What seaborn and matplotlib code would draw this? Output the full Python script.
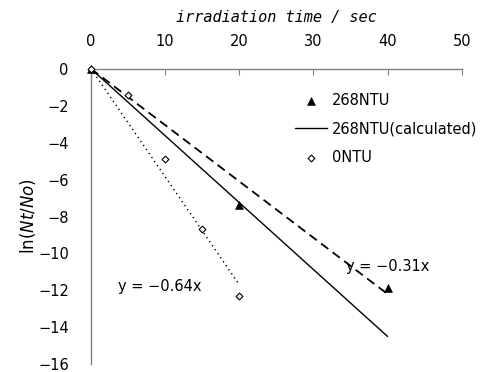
import matplotlib.pyplot as plt
import seaborn as sns

# measured points
t_268 = [0, 20, 40]
y_268 = [0, -7.35, -11.9]
t_0 = [0, 5, 10, 15, 20]
y_0 = [0, -1.4, -4.9, -8.7, -12.3]

# fitted / calculated lines (end points)
fit268_t = [0, 40]
fit268_y = [0, -12.2]
calc268_t = [0, 40]
calc268_y = [0, -14.5]
fit0_t = [0, 20]
fit0_y = [0, -11.7]

y_ticks = list(range(-16, 1, 2))

sns.set_style("white")
plt.rcParams["font.family"] = ["DejaVu Sans"]
plt.rcParams["text.color"] = "black"
plt.rcParams["xtick.labelcolor"] = "black"
plt.rcParams["ytick.labelcolor"] = "black"
plt.rcParams["axes.labelcolor"] = "black"

fig = plt.figure(figsize=(5.03, 3.72), dpi=100)
ax = fig.add_axes([0.181, 0.021, 0.737, 0.794])

sns.lineplot(x=fit268_t, y=fit268_y, ax=ax, color="black", lw=1.3,
             linestyle=(0, (5, 3)))
sns.lineplot(x=calc268_t, y=calc268_y, ax=ax, color="black", lw=1.0,
             label="268NTU(calculated)")
sns.lineplot(x=fit0_t, y=fit0_y, ax=ax, color="black", lw=1.0,
             linestyle=(0, (1, 2.5)))
sns.scatterplot(x=t_268, y=y_268, ax=ax, marker="^", color="black", s=32,
                edgecolor="black", label="268NTU", zorder=5, clip_on=False)
sns.scatterplot(x=t_0, y=y_0, ax=ax, marker="D", facecolor="white", s=12,
                edgecolor="black", linewidth=0.8, label="0NTU", zorder=6, clip_on=False)

ax.set_xlim(0, 50)
ax.set_ylim(-16, 0)
ax.set_xticks(range(0, 51, 10))
ax.set_yticks(y_ticks)
ax.xaxis.tick_top()
ax.xaxis.set_label_position("top")
ax.tick_params(axis="x", direction="in", length=4, color="gray", labelsize=10.5, pad=14)
ax.tick_params(axis="y", direction="in", length=4, color="gray", labelsize=10.5, pad=16)
ax.set_yticklabels([str(v).replace("-", "\u2212") for v in y_ticks])
for side in ["bottom", "right"]:
    ax.spines[side].set_visible(False)
for side in ["top", "left"]:
    ax.spines[side].set_color("gray")
    ax.spines[side].set_linewidth(1.0)

ax.set_xlabel("irradiation time / sec", fontsize=11, style="italic",
              family="DejaVu Sans Mono", labelpad=9)
ax.set_ylabel(r"ln($\it{Nt}$/$\it{No}$)", fontsize=12, labelpad=0)

ax.text(3.6, -11.8, "y = \u22120.64x", fontsize=10.5, va="center")
ax.text(34.4, -10.7, "y = \u22120.31x", fontsize=10.5, va="center")

handles, labels = ax.get_legend_handles_labels()
order = [labels.index("268NTU"), labels.index("268NTU(calculated)"), labels.index("0NTU")]
ax.legend([handles[i] for i in order], [labels[i] for i in order],
          loc="upper left", bbox_to_anchor=(0.575, 0.765), bbox_transform=fig.transFigure,
          frameon=False, fontsize=10.5, handlelength=2.2, handletextpad=0.3,
          labelspacing=0.9, borderaxespad=0)

fig.savefig("out.png", dpi=100)
